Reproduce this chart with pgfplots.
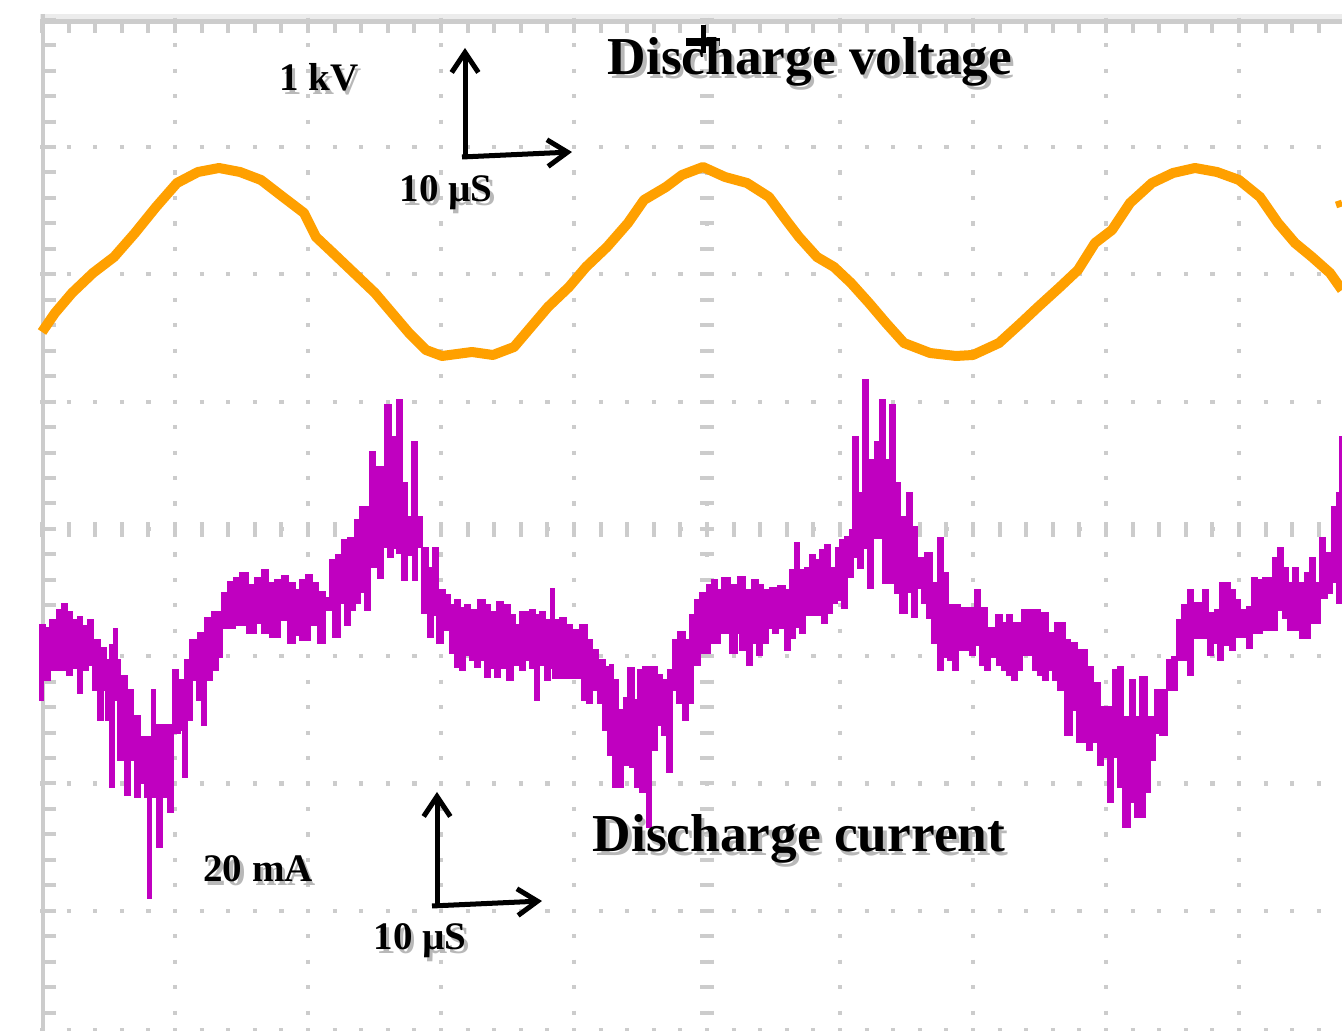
\documentclass[border=0pt]{standalone}
\usepackage{pgfplots}
\pgfplotsset{compat=1.18}
\usepackage{fontspec}
\setmainfont{Liberation Serif}
\usetikzlibrary{arrows.meta}
\definecolor{vtrace}{RGB}{255,160,0}
\definecolor{itrace}{RGB}{192,0,192}
\definecolor{gridgray}{RGB}{204,204,204}
\definecolor{lightstrip}{RGB}{236,236,236}
\newcommand{\shtext}[4]{%
  \node[anchor=base, text=black!28, font=\fontsize{#3}{#3}\selectfont\bfseries, inner sep=0pt] at ([shift={(1.0pt,-1.0pt)}]axis cs:#1,#2) {#4};
  \node[anchor=base, text=black, font=\fontsize{#3}{#3}\selectfont\bfseries, inner sep=0pt] at (axis cs:#1,#2) {#4};
}
\begin{document}
\begin{tikzpicture}
\begin{axis}[
  scale only axis, width=402.6pt, height=309.3pt,
  xmin=0, xmax=1342, ymin=0, ymax=1031, y dir=reverse,
  hide axis, clip=true,
]
% ----- oscilloscope graticule -----
\fill[lightstrip] (axis cs:40,14) rectangle (axis cs:1342,19.5);
\pgfplotsinvokeforeach{147,274.3,401.6,528.9,656.2,783.5,910.8}{
  \draw[gridgray, line width=1.25pt, dash pattern=on 1.25pt off 6.73pt] (axis cs:40,#1) -- (axis cs:1342,#1);
}
\pgfplotsinvokeforeach{175,308,441,574,707,840,973,1106,1239}{
  \draw[gridgray, line width=1.25pt, dash pattern=on 1.25pt off 6.388pt] (axis cs:#1,17.7) -- (axis cs:#1,1031);
}
\draw[gridgray, line width=4.5pt, dash pattern=on 1.2pt off 6.78pt] (axis cs:40,529.5) -- (axis cs:1342,529.5);
\draw[gridgray, line width=4.2pt, dash pattern=on 1.2pt off 6.438pt] (axis cs:707,17.7) -- (axis cs:707,1031);
\draw[gridgray, line width=2.7pt, dash pattern=on 1.2pt off 6.78pt] (axis cs:40,28.5) -- (axis cs:1342,28.5);
\draw[gridgray, line width=3pt, dash pattern=on 1.2pt off 6.78pt] (axis cs:40,1033) -- (axis cs:1342,1033);
\draw[gridgray, line width=3.6pt, dash pattern=on 1.2pt off 6.438pt] (axis cs:50,17.7) -- (axis cs:50,1031);
\draw[gridgray, line width=1.5pt] (axis cs:40,21.5) -- (axis cs:1342,21.5);
\draw[gridgray, line width=1.2pt] (axis cs:42.7,14) -- (axis cs:42.7,1031);
% ----- discharge voltage -----
\addplot[vtrace, line width=3pt, line join=round] coordinates {
(42,332) (55,313) (72,293) (93,273) (114,257) (135,233) (156,207) (177,183) (198,172) (219,168)
(240,172) (261,180) (283,197) (304,213) (316,237) (333,253) (354,273) (375,293) (392,313) (409,333)
(426,350) (442,356) (472,352) (493,355) (514,347) (531,327) (548,307) (569,287) (586,267) (607,247)
(628,223) (644,200) (666,187) (682,175) (703,167) (725,177) (747,183) (769,197) (786,220) (799,237)
(817,257) (834,267) (851,283) (869,303) (886,323) (904,343) (930,353) (956,356) (973,355) (999,343)
(1021,323) (1038,307) (1060,287) (1078,270) (1095,243) (1112,230) (1130,203) (1152,183) (1173,173) (1195,168)
(1217,172) (1239,180) (1260,197) (1278,223) (1295,243) (1312,257) (1330,273) (1342,290)
};
\addplot[vtrace, line width=2pt] coordinates {(1336,205) (1342,203)};
% ----- discharge current (envelope of the trace: top, then bottom reversed) -----
\addplot[itrace, fill=itrace, line width=0.5pt, const plot] coordinates {
(40,625)(45,628)(50,620)(57,610)(62,604)(67,612)(72,620)(78,617)(82,626)(88,620)(93,640)(100,648)(106,660)(110,645)(114,629)(117,660)(120,676)(127,690)(133,716)(140,737)(152,690)(155,725)(173,670)(178,680)(185,660)(190,640)(198,633)(205,618)(212,612)(222,593)(228,582)(234,578)(240,573)(248,585)(255,578)(262,570)(268,583)(275,580)(282,576)(288,583)(295,590)(300,580)(306,575)(312,583)(318,592)(325,598)(330,560)(336,555)(342,540)(348,538)(355,520)(360,507)(370,452)(375,467)(385,405)(391,437)(397,400)(402,483)(407,517)(412,442)(417,517)(422,548)(428,568)(433,548)(438,590)(445,595)(450,605)(455,600)(460,608)(465,605)(470,610)(478,600)(485,605)(490,612)(497,602)(503,605)(510,615)(515,625)(520,612)(530,610)(535,615)(540,612)(545,620)(551,589)(554,620)(560,618)(566,625)(572,630)(580,625)(587,640)(592,650)(598,660)(605,667)(610,665)(613,680)(618,710)(624,698)(628,668)(634,700)(638,670)(643,667)(650,667)(657,675)(662,680)(668,670)(673,640)(678,632)(685,640)(690,615)(695,600)(700,593)(707,585)(712,580)(717,590)(722,578)(730,585)(738,577)(745,590)(752,580)(758,585)(763,590)(770,588)(778,586)(785,590)(790,570)(795,543)(799,570)(805,568)(810,555)(815,560)(820,550)(825,545)(830,568)(836,548)(840,540)(845,537)(850,530)(853,437)(858,493)(863,380)(868,460)(875,442)(880,400)(885,460)(890,405)(895,483)(900,517)(907,493)(912,527)(917,558)(925,553)(932,583)(938,538)(943,573)(948,605)(960,608)(975,590)(980,608)(987,628)(996,615)(1002,623)(1007,615)(1012,623)(1022,610)(1040,613)(1048,633)(1055,623)(1065,640)(1070,643)(1077,650)(1087,667)(1093,683)(1100,707)(1113,670)(1118,667)(1123,717)(1130,680)(1135,717)(1140,677)(1147,717)(1155,690)(1167,660)(1172,657)(1177,620)(1182,605)(1188,590)(1193,603)(1203,590)(1208,613)(1215,610)(1220,583)(1230,590)(1235,600)(1240,610)(1247,607)(1252,578)(1257,580)(1263,578)(1273,558)(1278,548)(1283,568)(1288,583)(1293,568)(1298,583)(1305,573)(1310,558)(1315,583)(1320,538)(1325,553)(1332,507)(1337,493)(1340,437)(1342,437)
(1342,603)(1337,582)(1332,593)(1327,598)(1320,623)(1310,638)(1300,630)(1288,618)(1283,610)(1277,630)(1262,633)(1252,648)(1247,637)(1235,650)(1230,645)(1223,660)(1218,643)(1213,655)(1208,638)(1193,675)(1188,660)(1177,690)(1167,735)(1160,733)(1155,760)(1150,792)(1145,817)(1135,802)(1130,827)(1123,787)(1118,757)(1113,802)(1108,757)(1103,765)(1098,742)(1092,750)(1087,742)(1077,710)(1072,735)(1065,690)(1058,680)(1053,670)(1048,680)(1043,675)(1038,670)(1033,655)(1022,670)(1017,680)(1012,675)(1007,670)(1002,665)(997,657)(990,670)(985,665)(980,645)(975,655)(970,650)(958,670)(953,660)(948,657)(943,670)(938,643)(932,618)(927,603)(922,588)(917,617)(912,592)(907,613)(900,593)(895,583)(883,538)(873,588)(868,548)(863,568)(858,557)(853,577)(847,608)(842,600)(837,603)(832,613)(827,623)(822,615)(805,633)(800,627)(795,638)(790,650)(785,628)(778,633)(773,628)(768,643)(762,655)(757,643)(752,665)(747,650)(740,633)(737,653)(730,633)(720,643)(710,653)(700,665)(693,703)(688,720)(683,703)(677,690)(672,772)(667,735)(662,725)(657,750)(651,827)(647,792)(640,787)(635,767)(630,765)(623,787)(613,755)(608,730)(603,703)(598,690)(592,703)(587,700)(582,678)(553,668)(550,680)(545,665)(539,700)(535,668)(530,660)(525,670)(520,665)(513,680)(507,668)(500,677)(495,668)(490,677)(485,660)(480,667)(475,660)(470,655)(465,670)(460,667)(455,653)(450,630)(443,643)(437,615)(433,637)(428,613)(422,547)(417,580)(413,555)(407,580)(402,553)(397,548)(393,557)(388,547)(383,578)(378,567)(370,610)(365,592)(360,603)(355,610)(350,625)(345,603)(340,637)(333,610)(325,643)(318,625)(310,640)(300,635)(295,643)(288,620)(280,637)(270,633)(262,623)(256,633)(247,625)(235,628)(222,657)(218,670)(212,680)(206,725)(202,700)(197,680)(192,720)(187,777)(183,730)(180,733)(173,812)(168,797)(162,847)(157,797)(151,898)(148,797)(145,783)(140,797)(135,760)(130,795)(125,760)(118,700)(114,787)(110,720)(106,690)(103,720)(98,690)(93,665)(88,670)(82,693)(78,668)(72,675)(67,670)(50,680)(43,700)(40,700)
} -- cycle;
% ----- annotations -----
\draw[line width=1.5pt] (axis cs:703,25) -- (axis cs:703,53);
\fill (axis cs:686,38) rectangle (axis cs:720,46);
\draw[line width=1.5pt, -{Straight Barb[length=6pt,width=8pt]}] (axis cs:465,158) -- (axis cs:465,48);
\draw[line width=1.5pt, -{Straight Barb[length=6pt,width=8pt]}] (axis cs:462,157) -- (axis cs:572,152);
\draw[line width=1.5pt, -{Straight Barb[length=6pt,width=8pt]}] (axis cs:437,905) -- (axis cs:437,792);
\draw[line width=1.5pt, -{Straight Barb[length=6pt,width=8pt]}] (axis cs:432,906) -- (axis cs:542,901);
\shtext{319}{91}{11.7pt}{1 kV}
\shtext{446}{202}{11.7pt}{10 µS}
\shtext{810}{75}{16pt}{Discharge voltage}
\shtext{799}{852}{16pt}{Discharge current}
\shtext{258}{882}{11.7pt}{20 mA}
\shtext{420}{950}{11.7pt}{10 µS}
\end{axis}
\pgfresetboundingbox
\useasboundingbox (current axis.south west) rectangle (current axis.north east);
\end{tikzpicture}
\end{document}
